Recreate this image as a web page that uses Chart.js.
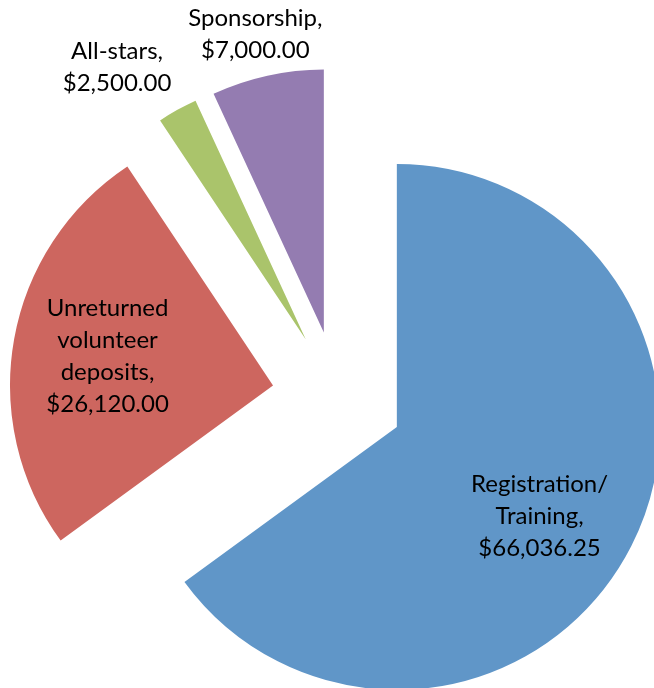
<!DOCTYPE html>
<html>
<head>
<meta charset="utf-8">
<script src="https://cdn.jsdelivr.net/npm/chart.js@4"></script>
<style>
  html, body { margin: 0; padding: 0; background: #fff; }
  #wrap { width: 654px; height: 688px; }
</style>
</head>
<body>
<div id="wrap"><canvas id="pie" width="654" height="688"></canvas></div>
<script>
// ========== DATA ========== //
const categories = [
  ["Registration/", "Training"],
  ["Unreturned", "volunteer", "deposits"],
  ["All-stars"],
  ["Sponsorship"]
];
const amounts = [66036.25, 26120.00, 2500.00, 7000.00];
const colors = ["#6096C8", "#CD665F", "#AAC46B", "#947CB1"];

const EXPLODE = 66; // px each slice is pulled out from the middle

// ========== PLUGINS ========== //
// move each wedge out along its own middle angle (like Excel's exploded pie)
const explode = {
  id: "explode",
  beforeDatasetDraw(chart, args) {
    const area = chart.chartArea;
    const cx = (area.left + area.right) / 2;
    const cy = (area.top + area.bottom) / 2;
    args.meta.data.forEach(arc => {
      const mid = (arc.startAngle + arc.endAngle) / 2;
      arc.x = cx + Math.cos(mid) * EXPLODE;
      arc.y = cy + Math.sin(mid) * EXPLODE;
    });
  }
};

// where each label sits: fraction of radius along the slice middle, plus a nudge
const labelPlace = [
  { r: 0.6, dx: 2, dy: 18 },
  { r: 0.5, dx: -36, dy: -6 },
  { r: 1.26, dx: -27, dy: 17 },
  { r: 1.16, dx: -3, dy: 0 }
];

const money = v => "$" + v.toLocaleString("en-US", { minimumFractionDigits: 2, maximumFractionDigits: 2 });

const sliceLabels = {
  id: "sliceLabels",
  afterDatasetsDraw(chart) {
    const ctx = chart.ctx;
    const meta = chart.getDatasetMeta(0);
    ctx.save();
    ctx.font = "24px Lato";
    ctx.fillStyle = "#000";
    ctx.textAlign = "center";
    ctx.textBaseline = "middle";
    meta.data.forEach((arc, i) => {
      const mid = (arc.startAngle + arc.endAngle) / 2;
      const p = labelPlace[i];
      const dist = arc.outerRadius * p.r;
      const cx = arc.x + Math.cos(mid) * dist + p.dx;
      const cy = arc.y + Math.sin(mid) * dist + p.dy;
      const lines = categories[i].slice();
      lines[lines.length - 1] += ",";
      lines.push(money(amounts[i]));
      const lh = 32;
      const top = cy - (lines.length - 1) * lh / 2;
      lines.forEach((t, k) => ctx.fillText(t, cx, top + k * lh));
    });
    ctx.restore();
  }
};

// ========== CHART ========== //
new Chart(document.getElementById("pie"), {
  type: "pie",
  data: {
    labels: categories,
    datasets: [{
      data: amounts,
      backgroundColor: colors,
      borderWidth: 0,
      radius: 263,
      clip: false
    }]
  },
  options: {
    responsive: false,
    animation: false,
    events: [],
    layout: { padding: { left: 22, right: 0, top: 106, bottom: 0 } },
    plugins: {
      legend: { display: false },
      tooltip: { enabled: false }
    }
  },
  plugins: [explode, sliceLabels]
});
</script>
</body>
</html>
